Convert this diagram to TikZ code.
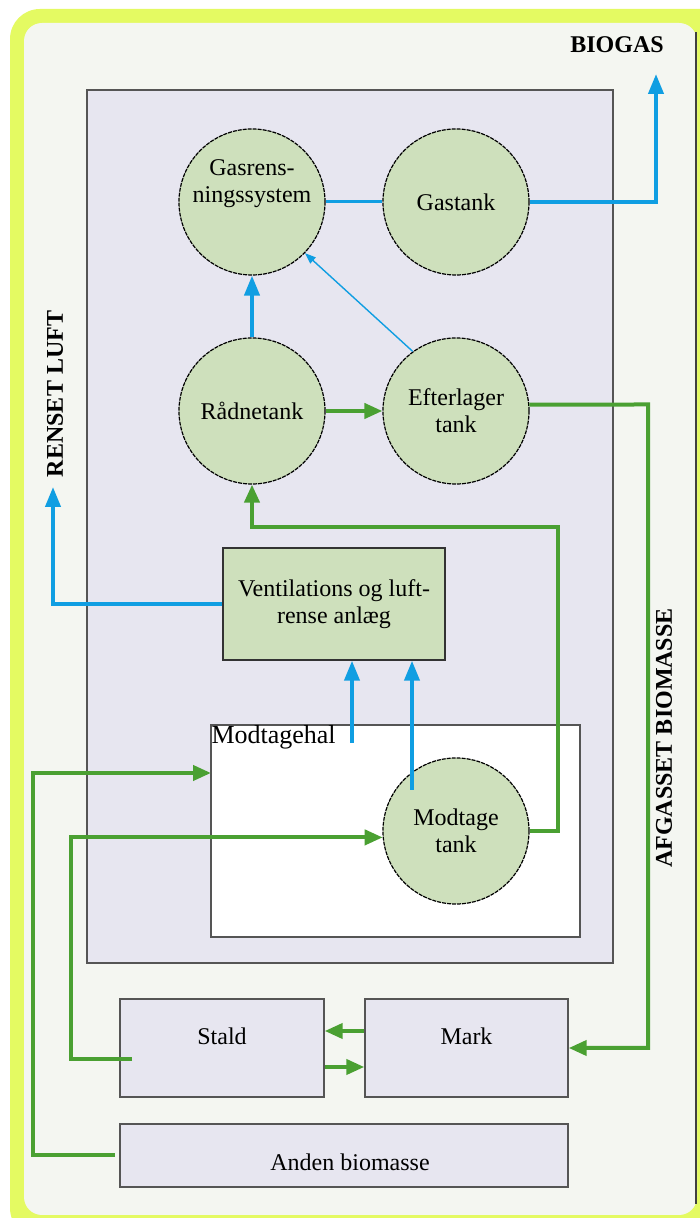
\documentclass[tikz,border=0pt]{standalone}
\usepackage{fontspec}
\setmainfont{Liberation Serif}
\usetikzlibrary{arrows.meta,calc}
\definecolor{frameyellow}{RGB}{228,250,98}
\definecolor{innerbg}{RGB}{244,246,241}
\definecolor{lavender}{RGB}{231,230,240}
\definecolor{tankgreen}{RGB}{206,224,188}
\definecolor{flowblue}{RGB}{16,158,226}
\definecolor{flowgreen}{RGB}{74,160,50}
\definecolor{edgegray}{RGB}{85,85,85}
\tikzset{
  txt/.style={font=\fontsize{24}{27}\selectfont, align=center, text=black},
  boldtxt/.style={font=\fontsize{24}{27}\selectfont\bfseries, text=black},
  tank/.style={circle, minimum size=146pt, inner sep=0pt, fill=tankgreen,
    draw=black, line width=1.2pt, dash pattern=on 4pt off 1pt, txt},
  boxlav/.style={rectangle, fill=lavender, draw=edgegray, line width=1.4pt, txt, inner sep=0pt},
  boxgreen/.style={rectangle, fill=tankgreen, draw=black!80, line width=1.4pt, txt, inner sep=0pt},
  bluearrow/.style={draw=flowblue, line width=4pt, -{Triangle[length=20pt,width=15pt]}},
  blueline/.style={draw=flowblue, line width=3pt},
  thinblue/.style={draw=flowblue, line width=1.4pt, -{Triangle[length=11pt,width=8pt]}},
  greenarrow/.style={draw=flowgreen, line width=4pt, -{Triangle[length=18pt,width=15pt]}},
}
\begin{document}
\begin{tikzpicture}[x=1pt,y=1pt]
\useasboundingbox (0,0) rectangle (700,1218);
% outer frame
\fill[frameyellow, rounded corners=30pt] (10,-20) rectangle (730,1209);
\fill[innerbg, rounded corners=18pt] (24,3) rectangle (697,1195);
\draw[black!75, line width=2.5pt] (696,14) -- (696,1186);
% big plant area
\node[boxlav, minimum width=526pt, minimum height=873pt, line width=1.2pt] (plant) at (350,691.5) {};
% Modtagehal
\node[rectangle, fill=white, draw=edgegray, line width=1.4pt, minimum width=369pt, minimum height=212pt, inner sep=0pt] (modhal) at (395.5,387) {};
\node[txt, font=\fontsize{26}{28}\selectfont, anchor=north west, inner sep=1pt] (modhallbl) at (modhal.north west) {Modtagehal};
% tanks
\node[tank] (gasrens) at (252,1016) {Gasrens-\\ningssystem\\[14pt]};
\node[tank] (gastank) at (456,1016) {Gastank};
\node[tank] (raad) at (252,807) {Rådnetank};
\node[tank] (efter) at (456,807) {Efterlager\\tank};
\node[tank] (modtage) at (456,387) {Modtage\\tank};
% ventilation
\node[boxgreen, minimum width=222pt, minimum height=112pt] (vent) at (334,614) {Ventilations og luft-\\rense anlæg};
% lower boxes
\node[boxlav, minimum width=204pt, minimum height=98pt] (stald) at (222,170) {};
\node[txt] (staldlbl) at (222,182) {Stald};
\node[boxlav, minimum width=203pt, minimum height=98pt] (mark) at (466.5,170) {};
\node[txt] (marklbl) at (466.5,182) {Mark};
\node[boxlav, minimum width=448pt, minimum height=63pt] (anden) at (344,62.5) {};
\node[txt] (andenlbl) at (350,56) {Anden biomasse};
% outside labels
\node[boldtxt] (biogaslbl) at (617,1173) {BIOGAS};
\node[boldtxt, rotate=90] (luftlbl) at (55,824) {RENSET LUFT};
\node[boldtxt, rotate=90] (afglbl) at (664,480) {AFGASSET BIOMASSE};
% coordinates
\coordinate (biogastip) at (656,1144);
\coordinate (lufttip) at (53,731);
\coordinate (b1) at (352,475);
\coordinate (b2) at (412,428);
\coordinate (staldin) at (132,159);
\coordinate (andenout) at (115,63);
\coordinate (halin) at (211,445);
% blue flows
\draw[blueline] (gasrens.east) -- (gastank.west);
\draw[bluearrow] (gastank.east) -| (biogastip);
\draw[bluearrow] (raad.north) -- (gasrens.south);
\draw[thinblue] (efter.126) -- (gasrens.-44);
\draw[bluearrow] (vent.west) -| (lufttip);
\draw[bluearrow] (b1) -- (b1 |- vent.south);
\draw[bluearrow] (b2) -- (b2 |- vent.south);
% green flows
\draw[greenarrow] (raad.east) -- (efter.west);
\draw[greenarrow] (efter.5) -- (648,813.5) |- (mark.east);
\draw[greenarrow] (modtage.east) -- (558,387) -- (558,691) -| (raad.south);
\draw[greenarrow] (andenout) -- (33,63) |- (halin);
\draw[greenarrow] (staldin) -- (71,159) |- (modtage.185);
\draw[greenarrow] ($(mark.west)+(0,17)$) -- ($(stald.east)+(0,17)$);
\draw[greenarrow] ($(stald.east)+(0,-19)$) -- ($(mark.west)+(0,-19)$);
\end{tikzpicture}
\end{document}
